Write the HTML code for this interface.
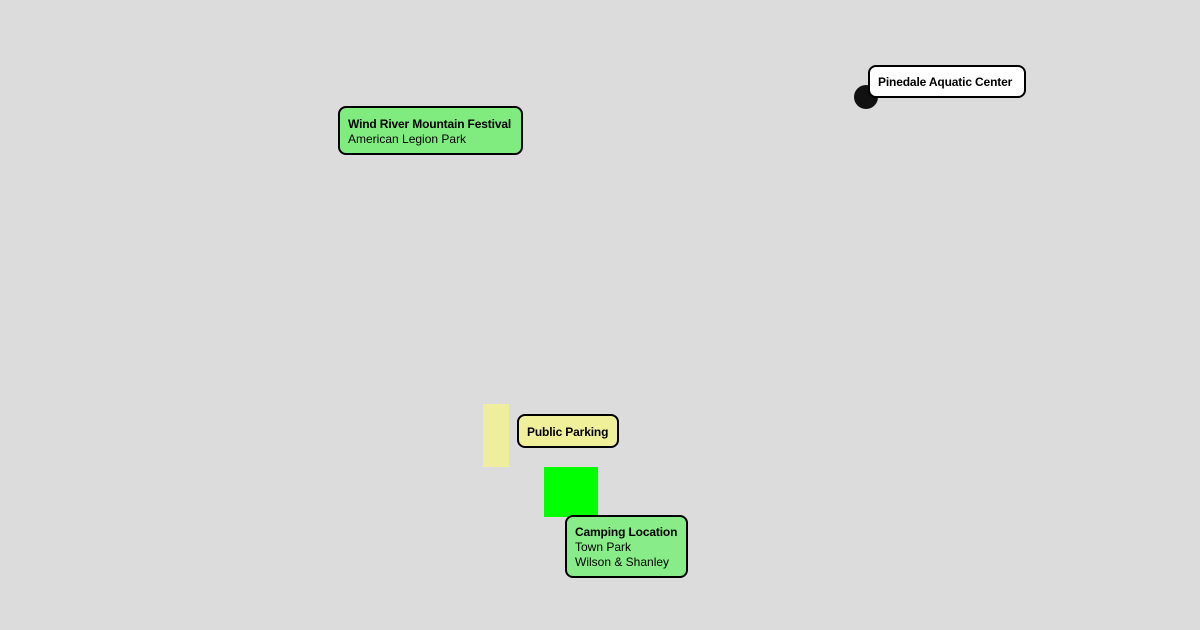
<!DOCTYPE html>
<html><head><style>
html,body{margin:0;padding:0;}
body{width:1200px;height:630px;background:#dcdcdc;position:relative;overflow:hidden;font-family:"Liberation Sans",sans-serif;font-size:12px;color:#000;}
.b{position:absolute;box-sizing:border-box;border:2px solid #000;border-radius:8px;padding:0 8px;line-height:15px;white-space:nowrap;}
.t{font-weight:bold;letter-spacing:-0.15px;}
.a{position:absolute;}
</style></head><body>
<div class="a" style="left:483px;top:404px;width:26px;height:63px;background:#eeee9e;"></div>
<div class="a" style="left:544px;top:467px;width:54px;height:50px;background:#00ff00;"></div>
<div class="a" style="left:854px;top:85px;width:24px;height:24px;border-radius:50%;background:#111;"></div>
<div class="b" style="left:338px;top:106px;width:185px;height:49px;background:#80ec80;padding-top:9px;"><div class="t">Wind River Mountain Festival</div><div>American Legion Park</div></div>
<div class="b" style="left:868px;top:65px;width:158px;height:33px;background:#fff;padding-top:8px;"><div class="t">Pinedale Aquatic Center</div></div>
<div class="b" style="left:517px;top:414px;width:102px;height:34px;background:#f0f09a;padding-top:9px;"><div class="t">Public Parking</div></div>
<div class="b" style="left:565px;top:515px;width:123px;height:63px;background:#88ec88;padding-top:8px;"><div class="t">Camping Location</div><div>Town Park</div><div>Wilson &amp; Shanley</div></div>
</body></html>
